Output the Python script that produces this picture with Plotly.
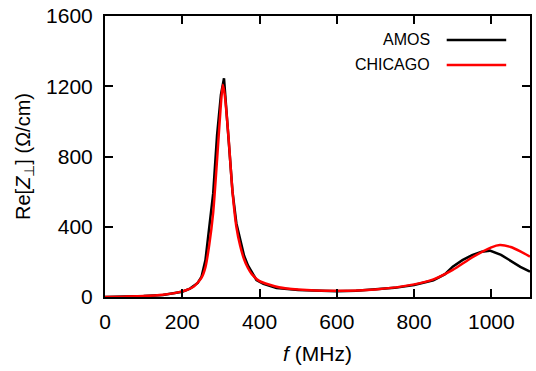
import plotly.graph_objects as go

# AMOS data
amos_f = [0, 50, 100, 150, 200, 220, 240, 250, 260, 270, 280, 290, 300, 308, 315, 320, 330, 340,
          350, 360, 370, 380, 392, 410, 444, 500, 550, 600, 650, 700, 750, 800, 850, 880, 900,
          925, 950, 975, 996, 1025, 1050, 1075, 1100]
amos_z = [0, 2, 5, 12, 30, 48, 80, 116, 210, 400, 590, 920, 1150, 1245, 1050, 880, 600, 420,
          320, 235, 180, 140, 97, 75, 51, 40, 35, 33, 35, 42, 52, 68, 95, 130, 173,
          210, 238, 258, 264, 240, 205, 172, 144]

# CHICAGO data
chi_f = [0, 50, 100, 150, 200, 230, 250, 260, 270, 280, 290, 300, 305, 310, 320, 330, 340, 350,
         360, 370, 380, 400, 450, 500, 600, 700, 800, 850, 900, 950, 1000, 1022, 1050, 1075, 1100]
chi_z = [0, 2, 5, 13, 32, 60, 110, 170, 300, 480, 780, 1100, 1208, 1150, 900, 600, 400, 290,
         215, 165, 130, 90, 55, 42, 35, 43, 72, 100, 154, 225, 283, 296, 285, 260, 230]

x_ticks = [0, 200, 400, 600, 800, 1000]
y_ticks = [0, 400, 800, 1200, 1600]

fig = go.Figure()
fig.add_trace(go.Scatter(x=amos_f, y=amos_z, mode="lines", name="AMOS",
                         line=dict(color="black", width=2.5), showlegend=False))
fig.add_trace(go.Scatter(x=chi_f, y=chi_z, mode="lines", name="CHICAGO",
                         line=dict(color="#ff0000", width=2.5, shape="spline", smoothing=0.6),
                         showlegend=False))

font = "Liberation Sans, Arial, sans-serif"
# gnuplot-style key: text then line sample
legend_items = [("AMOS", "black", 0.915), ("CHICAGO", "#ff0000", 0.826)]
for name, col, yp in legend_items:
    fig.add_annotation(x=0.769, y=yp, xref="paper", yref="paper", text=name, showarrow=False,
                       xanchor="right", yanchor="middle", font=dict(size=16, color="black", family=font))
    fig.add_shape(type="line", xref="paper", yref="paper", x0=0.804, x1=0.944, y0=yp, y1=yp,
                  line=dict(color=col, width=2.5))

axis_common = dict(showline=True, linecolor="black", linewidth=2, mirror="ticks",
                   ticks="inside", ticklen=8, tickwidth=1.5, tickcolor="black",
                   showgrid=False, zeroline=False,
                   tickfont=dict(size=21, color="black", family=font))

fig.update_xaxes(range=[0, 1100], tickvals=x_ticks, ticktext=[str(v) for v in x_ticks],
                 title=dict(text="<i>f</i> (MHz)", font=dict(size=21, color="black", family=font), standoff=14),
                 ticklabelstandoff=5, **axis_common)
fig.update_yaxes(range=[0, 1600], tickvals=y_ticks, ticktext=[str(v) for v in y_ticks],
                 title=dict(text="Re[<i>Z</i><sub>⊥</sub>] (Ω/cm)", font=dict(size=20, color="black", family=font), standoff=10),
                 ticklabelstandoff=6, **axis_common)

fig.update_layout(width=536, height=371, margin=dict(l=105, r=6, t=16, b=74, autoexpand=False),
                  plot_bgcolor="white", paper_bgcolor="white")
fig.write_html("out.html")
